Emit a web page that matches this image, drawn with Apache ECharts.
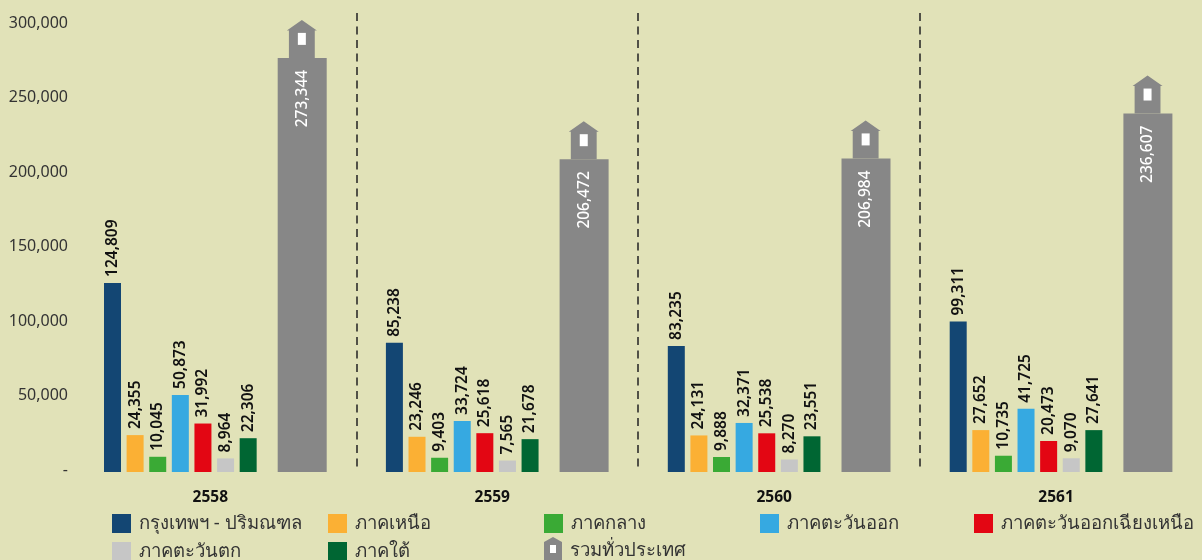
<!DOCTYPE html>
<html>
<head>
<meta charset="utf-8">
<style>html,body{margin:0;padding:0;background:#e1e2b8}#chart{width:1202px;height:560px}</style>
<script src="https://cdn.jsdelivr.net/npm/echarts@6/dist/echarts.min.js"></script>
</head>
<body>
<div id="chart"></div>
<script>
// Household counts by region, Buddhist-era years 2558-2561
const years = ['2558', '2559', '2560', '2561'];
const bangkok = [124809, 85238, 83235, 99311];
const north = [24355, 23246, 24131, 27652];
const central = [10045, 9403, 9888, 10735];
const east = [50873, 33724, 32371, 41725];
const northeast = [31992, 25618, 25538, 20473];
const west = [8964, 7565, 8270, 9070];
const south = [22306, 21678, 23551, 27641];
const nationwide = [273344, 206472, 206984, 236607];
const valueTicks = [0, 50000, 100000, 150000, 200000, 250000, 300000];

const regionNames = ['กรุงเทพฯ - ปริมณฑล', 'ภาคเหนือ', 'ภาคกลาง', 'ภาคตะวันออก', 'ภาคตะวันออกเฉียงเหนือ', 'ภาคตะวันตก', 'ภาคใต้'];
const regionValues = [bangkok, north, central, east, northeast, west, south];
const regionColors = ['#134673', '#fbb034', '#3aaa35', '#36a9e1', '#e30613', '#c6c6c6', '#006633'];
const totalName = 'รวมทั่วประเทศ';
const totalColor = '#878787';

const FONT = '"Noto Sans", sans-serif';

// House shape on the nationwide bars
const housePath = 'path://M15 0L29.5 10.5L27.5 10.5L27.5 38L2.5 38L2.5 10.5L0.5 10.5Z';
// Smaller house with its window for the legend
const houseSvg = "<svg xmlns='http://www.w3.org/2000/svg' width='18' height='28' viewBox='0 0 18 28'>" +
  "<polygon fill='" + totalColor + "' points='9,0 18,5 18,28 0,28 0,5'/>" +
  "<rect fill='#ffffff' x='6' y='8' width='6' height='8'/></svg>";
const houseIcon = 'image://data:image/svg+xml;charset=utf-8,' + encodeURIComponent(houseSvg);

const regionSeries = regionNames.map((name, i) => ({
  type: 'bar',
  name,
  xAxisIndex: 0,
  yAxisIndex: 0,
  data: regionValues[i],
  barWidth: 17,
  barGap: '33%',
  itemStyle: { color: regionColors[i] },
  label: {
    show: true,
    position: 'top',
    rotate: 90,
    align: 'left',
    verticalAlign: 'middle',
    distance: 6,
    color: '#111',
    fontFamily: FONT,
    fontWeight: 600,
    fontSize: 15.5,
    formatter: p => p.value.toLocaleString('en-US')
  }
}));

const legendSlots = [[112, 514], [328, 514], [544, 514], [760, 514], [974, 514], [112, 542], [328, 542], [544, 537]];
const legendNames = regionNames.concat(totalName);

const option = {
  backgroundColor: '#e1e2b8',
  animation: false,
  grid: [
    { left: 74.4, top: 13, width: 1129.2, height: 459 },
    { left: 74, top: 23, width: 1100, height: 447 }
  ],
  xAxis: [
    {
      type: 'category',
      gridIndex: 0,
      data: years,
      axisLine: { show: false },
      axisTick: { show: false },
      axisLabel: {
        margin: 18,
        padding: [0, 10, 0, 0],
        color: '#111',
        fontFamily: FONT,
        fontWeight: 700,
        fontSize: 15.5
      },
      splitLine: {
        show: true,
        showMinLine: false,
        showMaxLine: false,
        lineStyle: { color: '#222', width: 1.5, type: [8, 5.5] }
      }
    },
    { type: 'category', gridIndex: 1, data: years, show: false }
  ],
  yAxis: [
    // Scale the bars are measured against
    { type: 'value', gridIndex: 0, min: 0, max: 302970, show: false },
    // Printed value scale
    {
      type: 'value',
      gridIndex: 1,
      min: valueTicks[0],
      max: valueTicks[valueTicks.length - 1],
      interval: 50000,
      axisLine: { show: false },
      axisTick: { show: false },
      splitLine: { show: false },
      axisLabel: {
        margin: 6,
        color: '#333',
        fontFamily: FONT,
        fontSize: 16,
        formatter: v => (v === 0 ? '-' : v.toLocaleString('en-US'))
      }
    }
  ],
  legend: legendNames.map((name, i) => ({
    show: true,
    left: legendSlots[i][0],
    top: legendSlots[i][1],
    padding: 0,
    itemWidth: i === 7 ? 18 : 19,
    itemHeight: i === 7 ? 28 : 19,
    selectedMode: false,
    data: [i === 7 ? { name, icon: houseIcon } : { name, icon: 'rect' }],
    textStyle: {
      color: '#333',
      fontFamily: '"Noto Sans", "Liberation Sans", sans-serif',
      fontSize: 18.5,
      padding: [0, 0, 0, 3]
    }
  })),
  series: regionSeries.concat([
    // Empty slot that widens the gap in front of the nationwide bar
    { type: 'bar', name: 'gap', data: [], barWidth: 11.6, barGap: '33%' },
    {
      type: 'bar',
      name: totalName,
      data: nationwide,
      barWidth: 49,
      barGap: '33%',
      itemStyle: { color: totalColor },
      label: {
        show: true,
        position: 'insideTop',
        rotate: 90,
        align: 'right',
        verticalAlign: 'middle',
        distance: 12,
        color: '#fff',
        fontFamily: FONT,
        fontWeight: 500,
        fontSize: 15.5,
        formatter: p => p.value.toLocaleString('en-US')
      }
    },
    // House sitting on top of each nationwide bar
    {
      type: 'scatter',
      name: totalName,
      data: nationwide,
      symbol: housePath,
      symbolSize: [30, 38],
      symbolKeepAspect: false,
      symbolOffset: [86.5, -19],
      itemStyle: { color: totalColor, opacity: 1 },
      silent: true,
      z: 3
    },
    // Window of the house
    {
      type: 'scatter',
      name: totalName,
      data: nationwide,
      symbol: 'rect',
      symbolSize: [8, 12],
      symbolOffset: [86.5, -19],
      itemStyle: { color: '#ffffff', opacity: 1 },
      silent: true,
      z: 4
    }
  ])
};

echarts.init(document.getElementById('chart')).setOption(option);
</script>
</body>
</html>
